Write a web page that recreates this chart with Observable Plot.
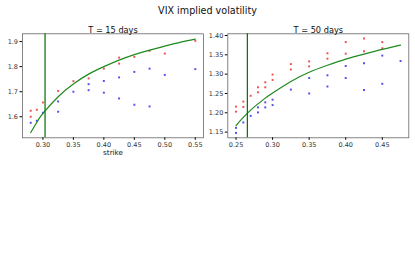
<!DOCTYPE html>
<html>
<head>
<meta charset="utf-8">
<script src="https://cdn.jsdelivr.net/npm/d3@7"></script>
<script src="https://cdn.jsdelivr.net/npm/@observablehq/plot@0.6"></script>
<style>
  html, body { margin: 0; padding: 0; background: #fff; }
  #wrap { position: relative; width: 415px; height: 277px; font-family: "DejaVu Sans", sans-serif; overflow: hidden; }
  #title { position: absolute; left: 0; width: 415px; top: 5px; text-align: center; font-size: 9.6px; line-height: 12px; color: #111; }
  .panel { position: absolute; top: 0; }
</style>
</head>
<body>
<div id="wrap">
  <div id="title">VIX implied volatility</div>
  <div id="p1" class="panel" style="left:0px"></div>
  <div id="p2" class="panel" style="left:207px"></div>
</div>
<script>
// ---- T = 15 days ----
const t15Title = "T = 15 days";
const t15RedStrike = [0.28, 0.28, 0.29, 0.30, 0.325, 0.35, 0.375, 0.40, 0.425, 0.425, 0.45, 0.475, 0.50, 0.55];
const t15RedVol    = [1.624, 1.600, 1.628, 1.657, 1.703, 1.742, 1.753, 1.792, 1.836, 1.812, 1.839, 1.863, 1.852, 1.903];
const t15BlueStrike = [0.28, 0.29, 0.30, 0.325, 0.325, 0.35, 0.375, 0.375, 0.40, 0.40, 0.425, 0.425, 0.45, 0.45, 0.475, 0.475, 0.50, 0.55];
const t15BlueVol    = [1.576, 1.584, 1.616, 1.620, 1.661, 1.700, 1.730, 1.706, 1.743, 1.696, 1.757, 1.673, 1.779, 1.648, 1.792, 1.641, 1.767, 1.790];
const t15FitStrike = [0.28, 0.29, 0.30, 0.325, 0.35, 0.375, 0.40, 0.425, 0.45, 0.475, 0.50, 0.525, 0.55];
const t15FitVol    = [1.537, 1.578, 1.613, 1.680, 1.731, 1.770, 1.800, 1.826, 1.848, 1.866, 1.882, 1.897, 1.910];
const t15Forward = [0.3035];
const t15XTicks = [0.30, 0.35, 0.40, 0.45, 0.50, 0.55];
const t15YTicks = [1.6, 1.7, 1.8, 1.9];

// ---- T = 50 days ----
const t50Title = "T = 50 days";
const t50RedStrike = [0.25, 0.25, 0.26, 0.26, 0.27, 0.28, 0.28, 0.29, 0.29, 0.30, 0.30, 0.325, 0.325, 0.35, 0.35, 0.375, 0.375, 0.40, 0.40, 0.425, 0.425, 0.45, 0.45];
const t50RedVol    = [1.216, 1.203, 1.229, 1.215, 1.244, 1.266, 1.253, 1.279, 1.266, 1.299, 1.285, 1.326, 1.312, 1.333, 1.320, 1.354, 1.340, 1.383, 1.353, 1.392, 1.359, 1.383, 1.367];
const t50BlueStrike = [0.25, 0.25, 0.26, 0.27, 0.28, 0.28, 0.29, 0.29, 0.30, 0.30, 0.325, 0.35, 0.35, 0.375, 0.375, 0.40, 0.40, 0.425, 0.425, 0.45, 0.45, 0.475];
const t50BlueVol    = [1.161, 1.148, 1.175, 1.192, 1.214, 1.201, 1.227, 1.214, 1.234, 1.220, 1.260, 1.250, 1.290, 1.268, 1.297, 1.290, 1.321, 1.259, 1.328, 1.275, 1.348, 1.334];
const t50FitStrike = [0.25, 0.26, 0.27, 0.28, 0.29, 0.30, 0.325, 0.35, 0.375, 0.40, 0.425, 0.45, 0.475];
const t50FitVol    = [1.167, 1.188, 1.207, 1.223, 1.238, 1.251, 1.281, 1.305, 1.323, 1.339, 1.352, 1.364, 1.375];
const t50Forward = [0.2655];
const t50XTicks = [0.25, 0.30, 0.35, 0.40, 0.45];
const t50YTicks = [1.15, 1.20, 1.25, 1.30, 1.35, 1.40];

const xLabel = "strike";

function zip(xs, ys) { return xs.map((x, i) => ({x, y: ys[i]})); }

function panel(opts) {
  const red = zip(opts.redX, opts.redY);
  const blue = zip(opts.blueX, opts.blueY);
  const fit = zip(opts.fitX, opts.fitY);
  const marks = [
    Plot.frame({stroke: "#666", strokeWidth: 0.8}),
    Plot.axisX({ticks: opts.xTicks, tickFormat: d3.format(".2f"), tickSize: 2.5, tickPadding: 2, fontSize: 6.5, fill: "#333", label: null}),
    Plot.axisY({ticks: opts.yTicks, tickFormat: d3.format(opts.yFmt), tickSize: 2.5, tickPadding: 2, fontSize: 6.5, fill: "#333", label: null}),
    Plot.dot(red, {x: "x", y: "y", r: 1.1, symbol: "square", fill: "#f03030", stroke: null, fillOpacity: 0.85}),
    Plot.dot(blue, {x: "x", y: "y", r: 1.1, symbol: "square", fill: "#3030f0", stroke: null, fillOpacity: 0.85}),
    Plot.line(fit, {x: "x", y: "y", stroke: "#1f8a1f", strokeWidth: 1.2, curve: "natural"}),
    Plot.ruleX(opts.forward, {stroke: "#007000", strokeWidth: 1.2}),
    Plot.text([opts.title], {text: d => d, frameAnchor: "top", dy: -7, fontSize: 8.2, fill: "#111"})
  ];
  if (opts.xLabel) {
    marks.push(Plot.text([opts.xLabel], {text: d => d, frameAnchor: "bottom", dy: 17, fontSize: 7.2, fill: "#111"}));
  }
  return Plot.plot({
    width: opts.width,
    height: 165,
    marginLeft: opts.ml,
    marginRight: opts.mr,
    marginTop: 33.3,
    marginBottom: 27.7,
    style: {fontFamily: "DejaVu Sans, sans-serif", background: "transparent", overflow: "visible"},
    x: {domain: opts.xDomain},
    y: {domain: opts.yDomain},
    marks
  });
}

document.getElementById("p1").appendChild(panel({
  width: 207, ml: 22, mr: 4,
  xDomain: [0.2665, 0.5635], yDomain: [1.516, 1.931],
  redX: t15RedStrike, redY: t15RedVol, blueX: t15BlueStrike, blueY: t15BlueVol,
  fitX: t15FitStrike, fitY: t15FitVol, forward: t15Forward,
  xTicks: t15XTicks, yTicks: t15YTicks, yFmt: ".1f", title: t15Title, xLabel: xLabel
}));

document.getElementById("p2").appendChild(panel({
  width: 208, ml: 20.3, mr: 6.7,
  xDomain: [0.23875, 0.48625], yDomain: [1.1353, 1.4044],
  redX: t50RedStrike, redY: t50RedVol, blueX: t50BlueStrike, blueY: t50BlueVol,
  fitX: t50FitStrike, fitY: t50FitVol, forward: t50Forward,
  xTicks: t50XTicks, yTicks: t50YTicks, yFmt: ".2f", title: t50Title, xLabel: null
}));
</script>
</body>
</html>
